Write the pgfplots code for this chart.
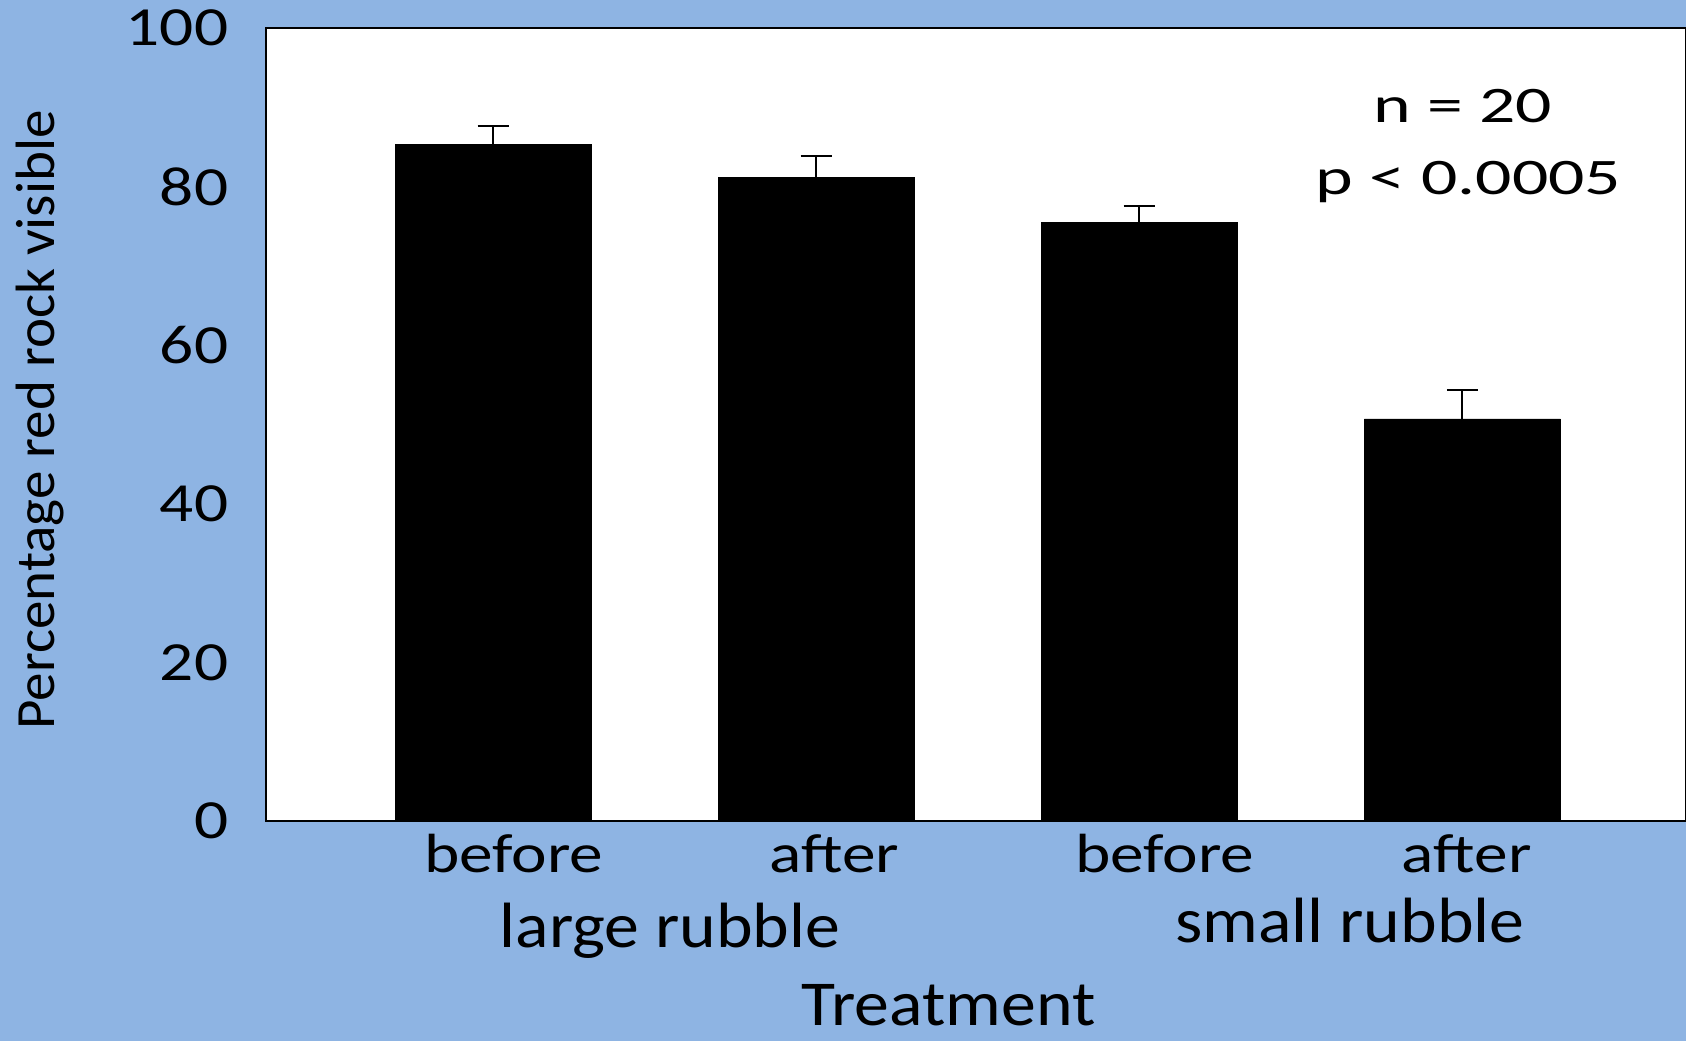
\documentclass[border=0pt]{standalone}
\usepackage{fontspec}
\setmainfont{Carlito}
\newfontfamily\tickfont[FakeStretch=1.22]{Carlito}
\newfontfamily\groupfont[FakeStretch=1.09]{Carlito}
\newfontfamily\ylabfont[FakeStretch=1.03]{Carlito}
\newfontfamily\annfont[FakeStretch=1.40]{Carlito}
\usepackage{pgfplots}
\pgfplotsset{compat=1.18}
\definecolor{bg}{RGB}{142,180,227}

\begin{document}
\begin{tikzpicture}
\fill[bg] (0,0) rectangle (421.5pt,260.25pt);
\useasboundingbox (0,0) rectangle (421.5pt,260.25pt);
\begin{axis}[
  at={(66.5pt,55pt)}, anchor=south west,
  scale only axis, width=355pt, height=198.25pt,
  xmin=-0.703, xmax=3.692, ymin=0, ymax=100,
  axis background/.style={fill=white},
  axis line style={line width=0.5pt, black},
  ybar,
  ytick={0,20,40,60,80,100},
  xtick={0.064,1.056,2.079,3.013},
  xticklabels={before,after,before,after},
  major tick length=0pt,
  tick style={draw=none},
  yticklabel={\pgfmathprintnumber[assume math mode=true]{\tick}},
  yticklabel style={font=\tickfont\fontsize{13.8}{14}\selectfont, anchor=east, inner sep=0pt, xshift=-9.25pt},
  xticklabel style={font=\tickfont\fontsize{13.8}{14}\selectfont, anchor=base, inner sep=0pt, yshift=-12.75pt},
  ylabel={Percentage red rock visible},
  ylabel style={font=\ylabfont\fontsize{13.85}{14}\selectfont, at={(axis description cs:-0.1486,0.5057)}, anchor=base, inner sep=0pt},
  xlabel={Treatment},
  xlabel style={font=\groupfont\fontsize{16}{16}\selectfont, at={(axis description cs:0.4806,-0.2573)}, anchor=base, inner sep=0pt},
]
\addplot[ybar, bar width=0.607, fill=black, draw=black, line width=0.2pt,
  error bars/.cd, y dir=plus, y explicit,
  error bar style={line width=0.5pt, draw=black},
  error mark options={rotate=90, mark size=3.9pt, line width=0.5pt, draw=black}]
coordinates {
  (0,85.3) +- (0,2.4)
  (1,81.1) +- (0,2.8)
  (2,75.5) +- (0,2.1)
  (3,50.7) +- (0,3.6)
};
\end{axis}
\node[font=\annfont\fontsize{12.8}{13}\selectfont, anchor=base, inner sep=0pt] at (365.75pt,229.6pt) {n = 20};
\node[font=\annfont\fontsize{12.8}{13}\selectfont, anchor=base, inner sep=0pt] at (367.1pt,211.5pt) {p < 0.0005};
\node[font=\groupfont\fontsize{16}{16}\selectfont, anchor=base, inner sep=0pt] at (167.5pt,23.25pt) {large rubble};
\node[font=\groupfont\fontsize{16}{16}\selectfont, anchor=base, inner sep=0pt] at (337.5pt,24.5pt) {small rubble};
\end{tikzpicture}
\end{document}
